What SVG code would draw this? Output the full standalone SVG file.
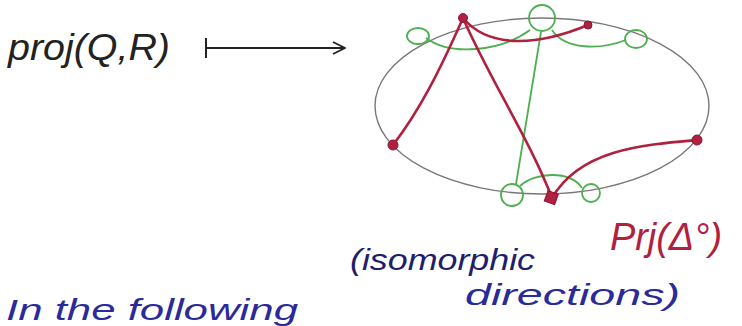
<svg xmlns="http://www.w3.org/2000/svg" width="742" height="326" viewBox="0 0 742 326">
<style>
.hand{font-family:"Liberation Sans","DejaVu Sans",sans-serif;font-style:italic}
.red{stroke:#b0203f;stroke-width:2.6;fill:none;stroke-linecap:round}
.grn{stroke:#4caf50;stroke-width:1.8;fill:none}
.rnode{fill:#b0203f;stroke:#8a1530;stroke-width:1}
</style>
<defs>
<marker id="ah" viewBox="0 0 14 14" refX="13" refY="7" markerWidth="14" markerHeight="14" markerUnits="userSpaceOnUse" orient="auto">
<path d="M1,1 L13,7 L1,13" fill="none" stroke="#222" stroke-width="1.8"/>
</marker>
</defs>
<rect width="742" height="326" fill="#fff"/>
<text class="hand" x="8" y="60" font-size="36" fill="#222" textLength="162" lengthAdjust="spacingAndGlyphs">proj(Q,R)</text>
<g id="connectors">
<path d="M206,38 L206,58 M206,48 L345,48" stroke="#222" stroke-width="2" fill="none" marker-end="url(#ah)"/>
<ellipse id="ellipse" cx="542" cy="106" rx="167" ry="88" fill="none" stroke="#777" stroke-width="1.4"/>
<path class="grn" d="M426,38 C450,56 500,52 530,30"/>
<path class="grn" d="M552,30 C565,50 600,50 626,40"/>
<path class="grn" d="M541,32 L516,184"/>
<path class="grn" d="M520,186 C535,172 570,170 582,188"/>
<path class="red" d="M463,18 C440,70 420,110 393,145"/>
<path class="red" d="M463,18 C490,80 530,140 552,198"/>
<path class="red" d="M463,18 C490,50 540,45 588,25"/>
<path class="red" d="M552,198 C580,150 640,145 697,140"/>
</g>
<g id="green-top"><circle class="grn" cx="542" cy="18" r="13"/></g>
<g id="green-left"><ellipse class="grn" cx="418" cy="36" rx="11" ry="8"/></g>
<g id="green-right"><ellipse class="grn" cx="636" cy="39" rx="11" ry="9"/></g>
<g id="green-bl"><circle class="grn" cx="512" cy="195" r="11"/></g>
<g id="green-br"><circle class="grn" cx="591" cy="193" r="9"/></g>
<g id="red-a"><circle class="rnode" cx="463" cy="18" r="4.5"/></g>
<g id="red-b"><circle class="rnode" cx="588" cy="25" r="4"/></g>
<g id="red-c"><circle class="rnode" cx="393" cy="145" r="5"/></g>
<g id="red-d"><circle class="rnode" cx="697" cy="140" r="5"/></g>
<g id="red-e"><rect class="rnode" x="546" y="192" width="11" height="11" transform="rotate(20 551 197)"/></g>
<text class="hand" x="610" y="250" font-size="38" fill="#b0203f" textLength="112" lengthAdjust="spacingAndGlyphs">Prj(Δ°)</text>
<text class="hand" x="350" y="270" font-size="30" fill="#1e1e6e" textLength="185" lengthAdjust="spacingAndGlyphs">(isomorphic</text>
<text class="hand" x="465" y="305" font-size="30" fill="#2a2a9a" textLength="215" lengthAdjust="spacingAndGlyphs">directions)</text>
<text class="hand" x="6" y="320" font-size="29" fill="#2a2a9a" textLength="292" lengthAdjust="spacingAndGlyphs">In the following</text>
</svg>
